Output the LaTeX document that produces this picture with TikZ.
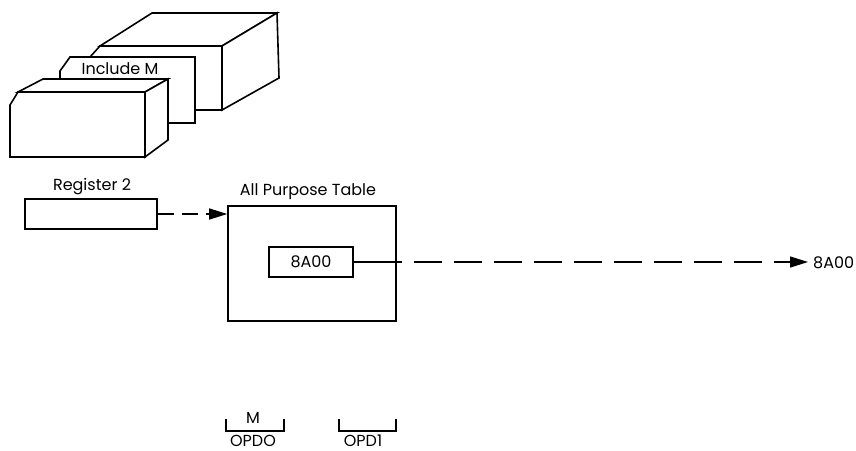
\documentclass[tikz,border=0pt]{standalone}
\usepackage{fontspec}
\setmainfont{Poppins}
\usetikzlibrary{arrows.meta}
\begin{document}
\begin{tikzpicture}[x=1pt,y=-1pt,
  outline/.style={line width=1.6pt, line join=miter, fill=white},
  boxnode/.style={draw, line width=1.6pt, inner sep=0pt},
  lbl/.style={font=\fontsize{16}{18}\selectfont, inner sep=0pt},
  flow/.style={line width=1.3pt, -{Triangle[length=18pt,width=11pt]}},
  bracketline/.style={line width=1.6pt}]
\useasboundingbox (0,0) rectangle (856,450);

% rear card stack: back block
\draw[outline] (90,57) -- (100,46) -- (222,46) -- (222,110) -- (90,110) -- cycle;
\draw[outline] (100,46) -- (152,13) -- (277,13) -- (222,46) -- cycle;
\draw[outline] (222,46) -- (277,13) -- (279,78) -- (222,110) -- cycle;
% middle card
\draw[outline] (60,71) -- (70,57) -- (195,57) -- (195,123) -- (60,123) -- cycle;
\node[lbl] (inc) at (120,69) {Include M};
% front block
\draw[outline] (10,105) -- (18,92) -- (145,92) -- (145,157) -- (10,157) -- cycle;
\draw[outline] (18,92) -- (43,79) -- (168,79) -- (145,92) -- cycle;
\draw[outline] (145,92) -- (168,79) -- (168,140) -- (145,157) -- cycle;

% register and table
\node[boxnode, minimum width=132pt, minimum height=30pt] (reg) at (91,214) {};
\node[lbl] (reglbl) at (92,187) {Register 2};
\node[boxnode, minimum width=168pt, minimum height=115pt] (tbl) at (312,263.5) {};
\node[lbl] (tbllbl) at (308,192) {All Purpose Table};
\node[boxnode, minimum width=84pt, minimum height=30pt, font=\fontsize{16}{18}\selectfont] (val) at (311,262) {8A00};

\draw[flow, dash pattern=on 16pt off 8pt] (reg.east) -- (reg.east -| tbl.west);
\coordinate (tip) at (808,262);
\draw[flow, dash pattern=on 48pt off 12pt on 28pt off 12pt on 28pt off 12pt on 28pt off 12pt on 28pt off 12pt on 28pt off 12pt on 28pt off 12pt on 28pt off 12pt on 28pt off 12pt on 28pt off 12pt on 28pt off 12pt on 400pt off 0pt] (val.east) -- (tip);
\node[lbl, anchor=west] (out) at (813,263) {8A00};

% operand brackets
\draw[bracketline] (226,419) -- (226,431) -- (284,431) -- (284,419);
\node[lbl] (m) at (253,418) {M};
\node[lbl, anchor=base] (opd0) at (253,446) {OPDO};
\draw[bracketline] (339,419) -- (339,431) -- (396,431) -- (396,419);
\node[lbl, anchor=base] (opd1) at (363,446) {OPD1};
\end{tikzpicture}
\end{document}
